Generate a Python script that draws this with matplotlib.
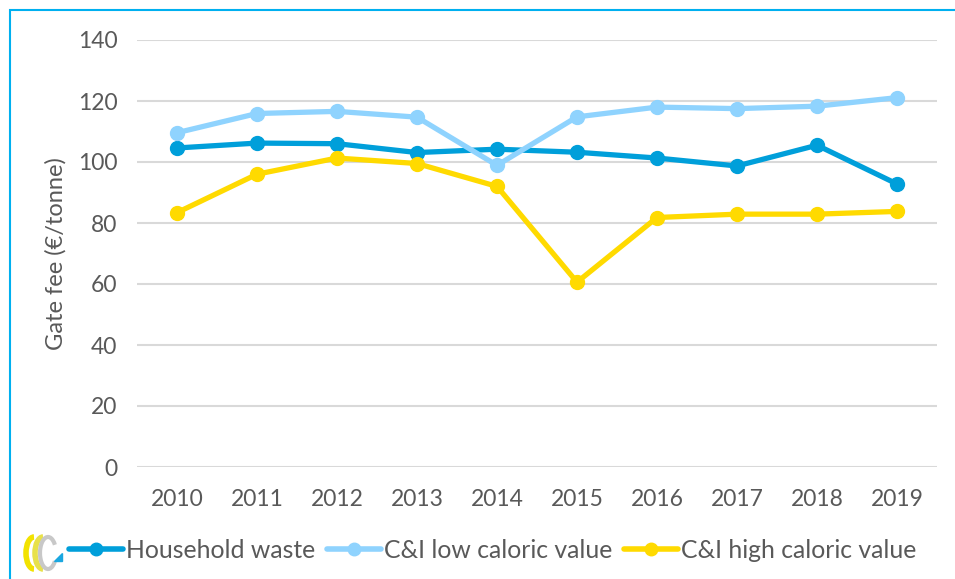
import matplotlib
matplotlib.use("Agg")
import matplotlib.pyplot as plt
from matplotlib.patches import Rectangle, Polygon, Arc

plt.rcParams['font.family'] = ['Lato', 'DejaVu Sans']

years = ['2010', '2011', '2012', '2013', '2014', '2015', '2016', '2017', '2018', '2019']
household = [104.6, 106.2, 106.0, 103.1, 104.2, 103.2, 101.3, 98.7, 105.5, 92.8]
ci_low = [109.6, 115.9, 116.6, 114.7, 98.9, 114.8, 118.0, 117.5, 118.3, 121.1]
ci_high = [83.4, 96.0, 101.3, 99.5, 92.0, 60.6, 81.8, 82.9, 82.9, 83.8]
labels = ['Household waste', 'C&I low caloric value', 'C&I high caloric value']
colors = ['#009FDA', '#8FD3FE', '#FFDA00']
txt = '#595959'
fs = 16.5

fig = plt.figure(figsize=(9.55, 5.79), dpi=100)
ax = fig.add_axes([137/955, 1-467/579, 800/955, 427/579])

x = range(len(years))
for vals, lab, c in zip([household, ci_low, ci_high], labels, colors):
    ax.plot(x, vals, color=c, lw=3.8, marker='o', ms=10, label=lab,
            solid_joinstyle='round', solid_capstyle='round')

ax.set_xlim(-0.5, 9.5)
ax.set_ylim(0, 140)
ax.set_yticks(range(0, 141, 20))
ax.set_xticks(list(x))
ax.set_xticklabels(years)
ax.grid(axis='y', color='#D9D9D9', lw=1.5)
ax.set_axisbelow(True)
for s in ax.spines.values():
    s.set_visible(False)
ax.tick_params(length=0, labelsize=fs, colors=txt, pad=16)
ax.tick_params(axis='y', pad=14)
ax.set_ylabel('Gate fee (€/tonne)', fontsize=17, color=txt, labelpad=8)

leg = fig.legend(loc='center left', bbox_to_anchor=(69/955, 1-550/579), ncol=3,
                 frameon=False, fontsize=17.8, handlelength=2.2, handletextpad=0.12,
                 columnspacing=0.45, borderaxespad=0, borderpad=0)
for t in leg.get_texts():
    t.set_color(txt)
for h in leg.legend_handles:
    h.set_markersize(9)
    h.set_linewidth(4)

# blue frame, cropped at right and bottom
fig.patches.append(Rectangle((10/955, -0.1), 1.1, 1-10/579+0.1, transform=fig.transFigure,
                             fill=False, ec='#00B0F0', lw=1.5))

# small logo bottom left
lax = fig.add_axes([18/955, 1-572/579, 46/955, 38/579])
lax.set_xlim(0, 46)
lax.set_ylim(0, 38)
lax.axis('off')
lax.add_patch(Arc((16, 19), 16, 32, theta1=90, theta2=270, color='#F2E200', lw=4))
lax.add_patch(Arc((25, 19), 16, 32, theta1=90, theta2=270, color='#E8E14A', lw=4))
lax.add_patch(Arc((30, 19), 16, 32, theta1=50, theta2=310, color='#C8C8C8', lw=3))
lax.add_patch(Polygon([[36, 11], [44, 11], [44, 19]], color='#1AA7E0'))

fig.savefig('out.png', dpi=100)
